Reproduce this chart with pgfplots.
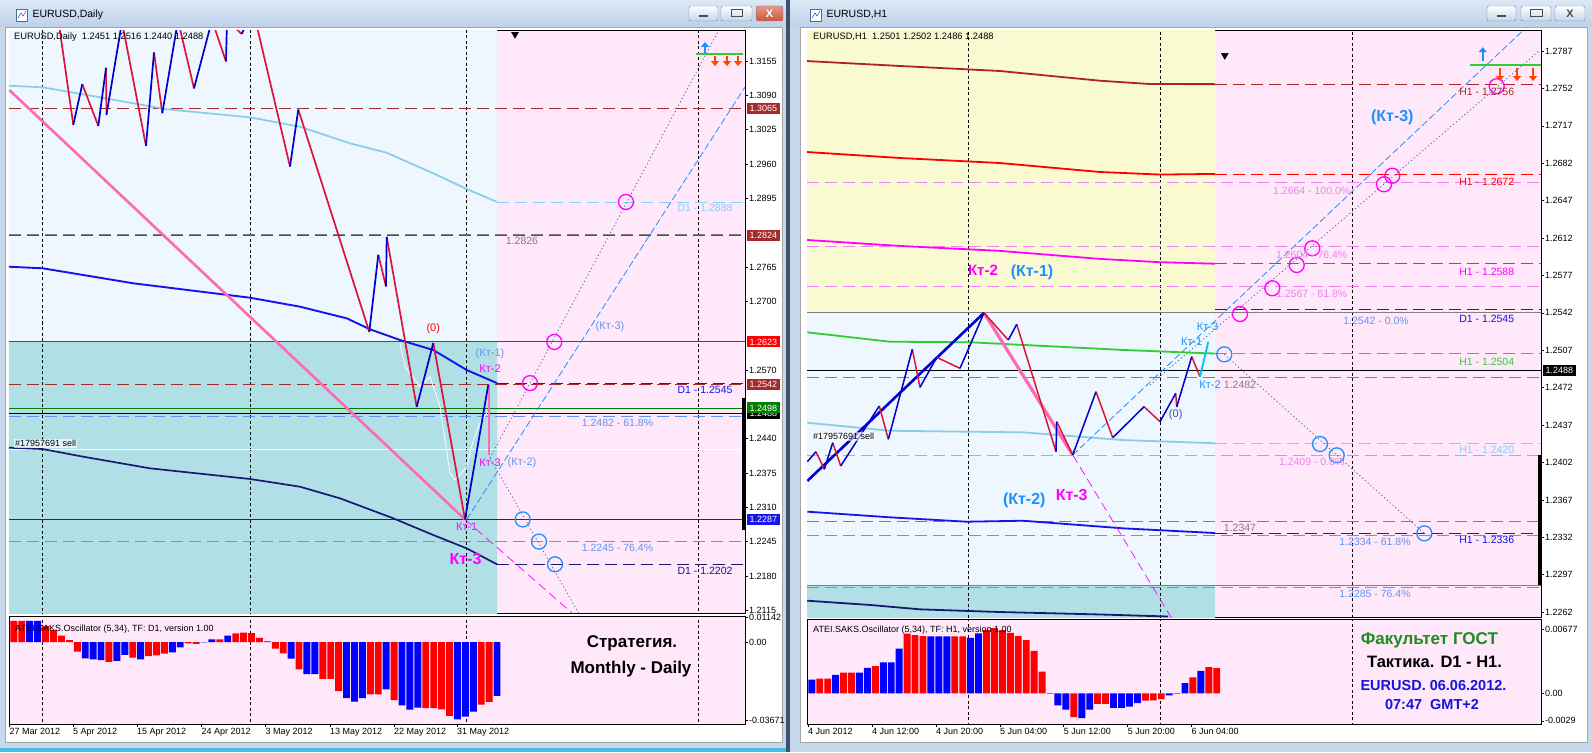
\documentclass[border=0pt]{standalone}
\usepackage{fontspec}
\setmainfont{Liberation Sans}
\usepackage{pgfplots}
\pgfplotsset{compat=1.18}
\usetikzlibrary{arrows.meta}

\definecolor{chrome}{RGB}{200,216,236}
\definecolor{titletop}{RGB}{220,232,246}
\definecolor{titlebot}{RGB}{190,209,233}
\definecolor{divider}{RGB}{60,82,108}
\definecolor{cyanline}{RGB}{70,190,225}
\definecolor{btnbord}{RGB}{110,130,160}
\definecolor{btnbot}{RGB}{196,212,234}
\definecolor{closered}{RGB}{205,85,60}
\definecolor{pinkbg}{RGB}{255,232,250}
\definecolor{alicebg}{RGB}{238,246,254}
\definecolor{tealbg}{RGB}{176,223,229}
\definecolor{yellowbg}{RGB}{250,250,210}
\definecolor{zzred}{RGB}{220,20,60}
\definecolor{zzblue}{RGB}{0,0,205}
\definecolor{skyma}{RGB}{135,206,235}
\definecolor{bluema}{RGB}{20,20,235}
\definecolor{navyma}{RGB}{25,25,112}
\definecolor{hotpink}{RGB}{255,105,180}
\definecolor{magent}{RGB}{255,0,255}
\definecolor{dodger}{RGB}{30,144,255}
\definecolor{deepsky}{RGB}{0,191,255}
\definecolor{cornflower}{RGB}{100,149,237}
\definecolor{violetc}{RGB}{238,130,238}
\definecolor{brownc}{RGB}{165,42,42}
\definecolor{firebrick}{RGB}{178,34,34}
\definecolor{limeg}{RGB}{50,205,50}
\definecolor{darkgreen}{RGB}{0,128,0}
\definecolor{lightsky}{RGB}{135,206,250}
\definecolor{steel}{RGB}{70,110,160}
\definecolor{orangered}{RGB}{255,69,0}
\definecolor{oscred}{RGB}{255,0,0}
\definecolor{oscblue}{RGB}{0,0,255}
\definecolor{gostgreen}{RGB}{30,140,30}
\definecolor{textblue}{RGB}{20,20,220}
\definecolor{zerocol}{RGB}{50,80,190}

\newcommand{\fs}[1]{\fontsize{#1}{#1}\selectfont}

\tikzset{
  lab/.style={font=\fs{10.5}, inner sep=0pt},
  lab2/.style={font=\fs{11}, inner sep=0pt},
  pb/.style={anchor=west, font=\fs{9}, text=white, inner xsep=2.5pt, inner ysep=1pt, minimum height=11pt, xshift=2pt},
}
\pgfplotsset{
  mt/.style={scale only axis, clip mode=individual,
    axis line style={black,line width=0.8pt},
    xtick=\empty, ytick pos=right, yticklabel pos=right,
    tick align=outside, major tick length=3pt,
    tick style={black,line width=0.6pt},
    yticklabel style={font=\fs{9}, anchor=west, inner sep=1pt},
    xticklabel style={font=\fs{9}, anchor=north west, inner sep=1pt, xshift=-1pt},
    axis background/.style={fill=pinkbg}},
  lvl/.style={line width=0.8pt, dash pattern=on 12pt off 6pt},
  sepl/.style={black, line width=0.7pt, dash pattern=on 3pt off 2.5pt},
  bg/.style={draw=none, fill=#1},
  circ/.style={only marks, mark=o, mark size=7.5pt, mark options={line width=1.3pt}},
}

\begin{document}
\begin{tikzpicture}
% ---------- window chrome ----------
\begin{scope}[x=1pt,y=-1pt]
\fill[chrome] (0,0) rectangle (1592,752);
\shade[top color=titletop, bottom color=titlebot] (0,0) rectangle (786,27);
\shade[top color=titletop, bottom color=titlebot] (790,0) rectangle (1592,27);
\fill[white] (5,27) rectangle (782,742);
\draw[gray!70] (5,27) rectangle (782,742);
\fill[white] (800,27) rectangle (1587,742);
\draw[gray!70] (800,27) rectangle (1587,742);
\fill[divider] (786,0) rectangle (790,752);
\fill[cyanline] (0,748) rectangle (786,752);
% icons and titles
\draw[steel, fill=white] (16,9) rectangle (27,21);
\draw[bluema] (18,18) -- (21,13) -- (23,16) -- (26,11);
\node[anchor=west, font=\fs{10.5}] at (29,15) {EURUSD,Daily};
\draw[steel, fill=white] (810,9) rectangle (821,21);
\draw[bluema] (812,18) -- (815,13) -- (817,16) -- (820,11);
\node[anchor=west, font=\fs{10.5}] at (823,15) {EURUSD,H1};
% buttons left
\draw[btnbord, rounded corners=2pt, top color=white, bottom color=btnbot] (689,6) rectangle (718,21);
\draw[line width=1.6pt, black!70] (699,16) -- (708,16);
\draw[btnbord, rounded corners=2pt, top color=white, bottom color=btnbot] (721,6) rectangle (752,21);
\draw[line width=1pt, black!70] (731,10) rectangle (742,17);
\draw[btnbord, rounded corners=2pt, top color=closered!60, bottom color=closered] (756,6) rectangle (783,21);
\node[font=\bfseries\fs{11}, text=white] at (769.5,13.5) {X};
% buttons right
\draw[btnbord, rounded corners=2pt, top color=white, bottom color=btnbot] (1487,6) rectangle (1516,21);
\draw[line width=1.6pt, black!70] (1497,16) -- (1506,16);
\draw[btnbord, rounded corners=2pt, top color=white, bottom color=btnbot] (1521,6) rectangle (1551,21);
\draw[line width=1pt, black!70] (1530,10) rectangle (1542,17);
\draw[btnbord, rounded corners=2pt, top color=white, bottom color=btnbot] (1555,6) rectangle (1585,21);
\node[font=\bfseries\fs{11}, text=black!70] at (1570,13.5) {X};
\end{scope}

% ================= LEFT MAIN (Daily) =================
\begin{axis}[mt, at={(9pt,-30.5pt)}, anchor=north west, width=736pt, height=582.5pt,
  xmin=9, xmax=745, ymin=1.21098, ymax=1.32126,
  ytick={1.3155,1.309,1.3025,1.296,1.2895,1.2765,1.27,1.257,1.244,1.2375,1.231,1.2245,1.218,1.2115},
  yticklabels={1.3155,1.3090,1.3025,1.2960,1.2895,1.2765,1.2700,1.2570,1.2440,1.2375,1.2310,1.2245,1.2180,1.2115}]
% backgrounds
\addplot[bg=alicebg] coordinates {(9,1.2623)(497,1.2623)(497,1.33)(9,1.33)(9,1.2623)};
\addplot[bg=tealbg] coordinates {(9,1.20)(497,1.20)(497,1.2623)(9,1.2623)(9,1.20)};
% period separators
\addplot[sepl] coordinates {(42.5,1.20)(42.5,1.33)};
\addplot[sepl] coordinates {(250.5,1.20)(250.5,1.33)};
\addplot[sepl] coordinates {(466.5,1.20)(466.5,1.33)};
\addplot[sepl] coordinates {(698,1.20)(698,1.33)};
% levels
\addplot[brownc,lvl] coordinates {(9,1.3065)(745,1.3065)};
\addplot[gray,lvl] coordinates {(9,1.2826)(745,1.2826)};
\addplot[brownc,lvl] coordinates {(9,1.2824)(745,1.2824)};
\addplot[lightsky,lvl] coordinates {(497,1.2888)(745,1.2888)};
\addplot[red,line width=0.9pt] coordinates {(9,1.2623)(745,1.2623)};
\addplot[bluema,lvl] coordinates {(497,1.2545)(745,1.2545)};
\addplot[brownc,lvl] coordinates {(9,1.2542)(745,1.2542)};
\addplot[darkgreen,line width=0.9pt] coordinates {(9,1.2498)(745,1.2498)};
\addplot[black,line width=0.8pt] coordinates {(9,1.2488)(745,1.2488)};
\addplot[cornflower,lvl] coordinates {(9,1.2482)(745,1.2482)};
\addplot[white,line width=0.9pt] coordinates {(9,1.2420)(745,1.2420)};
\addplot[bluema,line width=0.9pt] coordinates {(9,1.2287)(745,1.2287)};
\addplot[cornflower,lvl] coordinates {(9,1.2245)(745,1.2245)};
\addplot[navyma,lvl] coordinates {(497,1.2202)(745,1.2202)};
% moving averages
\addplot[skyma,line width=1.7pt] coordinates {(9,1.3108)(42.7,1.3105)(100,1.30861)(166.7,1.30634)(250,1.30482)(300,1.30304)(350,1.2999)(386.7,1.29812)(433.3,1.29422)(466.7,1.29125)(497,1.2888)};
\addplot[bluema,line width=1.9pt] coordinates {(9,1.27654)(42.7,1.27624)(133.3,1.2734)(250,1.27067)(300,1.26897)(346.7,1.26677)(370,1.26469)(400,1.26266)(433.3,1.26077)(466.7,1.25698)(497,1.2545)};
\addplot[navyma,line width=1.7pt] coordinates {(9,1.24227)(42.7,1.24202)(83.3,1.24057)(150,1.23837)(250,1.23635)(300,1.23489)(340,1.23269)(393.3,1.22891)(433.3,1.22574)(466.7,1.22322)(497,1.2202)};
% trend and projections
\addplot[hotpink,line width=2.6pt] coordinates {(9.3,1.30999)(465,1.2287)};
\addplot[magent,line width=0.7pt,dash pattern=on 9pt off 5pt] coordinates {(465,1.2287)(580,1.20966)};
\addplot[dodger,line width=0.8pt,dash pattern=on 7pt off 3pt] coordinates {(466.7,1.2287)(745,1.31056)};
\addplot[steel,line width=0.8pt,dash pattern=on 1.2pt off 2.5pt] coordinates {(490,1.24032)(718.6,1.32126)};
\addplot[steel,line width=0.8pt,dash pattern=on 1.2pt off 2.5pt] coordinates {(490,1.24032)(590,1.2072)};
% white auxiliary line
\addplot[white,line width=0.8pt] coordinates {(400,1.26204)(405,1.25761)(420,1.25382)(430,1.25571)(440,1.25004)(450,1.23748)(455,1.23616)(466.7,1.23868)(473.3,1.24373)(480,1.24695)(486.7,1.24884)};
% zigzag
\addplot[hotpink,line width=2pt] coordinates {(489.3,1.2542)(489.3,1.24089)};
\addplot[zzred,line width=1.7pt,unbounded coords=jump] coordinates {
(57,1.3251)(73.3,1.3034)(0,nan)
(82.3,1.3111)(98.3,1.3032)(0,nan)
(106,1.3142)(106.5,1.3053)(0,nan)
(122,1.3229)(146,1.2994)(0,nan)
(154,1.3171)(162.3,1.3056)(0,nan)
(178,1.3232)(194,1.3103)(0,nan)
(212,1.3232)(226,1.3154)(0,nan)
(227,1.3232)(241.7,1.3206)(0,nan)
(255.5,1.3232)(290,1.2955)(0,nan)
(298.3,1.3063)(369.3,1.2642)(0,nan)
(378.3,1.2788)(386,1.2728)(0,nan)
(386.7,1.2822)(416.7,1.2500)(0,nan)
(433.3,1.2621)(465,1.2287)};
\addplot[zzblue,line width=1.7pt,unbounded coords=jump] coordinates {
(73.3,1.3034)(82.3,1.3111)(0,nan)
(98.3,1.3032)(106,1.3142)(0,nan)
(106.5,1.3053)(122,1.3229)(0,nan)
(146,1.2994)(154,1.3171)(0,nan)
(162.3,1.3056)(178,1.3232)(0,nan)
(194,1.3103)(212,1.3232)(0,nan)
(226,1.3154)(227,1.3232)(0,nan)
(241.7,1.3206)(248,1.3232)(0,nan)
(290,1.2955)(298.3,1.3063)(0,nan)
(369.3,1.2642)(378.3,1.2788)(0,nan)
(386,1.2728)(386.7,1.2822)(0,nan)
(416.7,1.2500)(433.3,1.2621)(0,nan)
(465,1.2287)(488.3,1.2542)};
% circles
\addplot[circ, magent] coordinates {(626,1.2888)(554.3,1.2623)(530,1.2545)};
\addplot[circ, dodger] coordinates {(522.7,1.2287)(539,1.2245)(555,1.2202)};
% top-right signals
\addplot[limeg,line width=2.4pt] coordinates {(696,1.31683)(743,1.31683)};
\addplot[dodger,line width=2.2pt,-{Triangle[width=8pt,length=5pt]},quiver={u=\thisrow{u},v=\thisrow{v}}] table {
x y u v
705 1.31709 0 0.0020
};
\addplot[orangered,line width=2.2pt,-{Triangle[width=8pt,length=5pt]},quiver={u=\thisrow{u},v=\thisrow{v}}] table {
x y u v
715 1.31643 0 -0.0019
727 1.31643 0 -0.0019
738 1.31643 0 -0.0019
};
\addplot[only marks, mark=triangle*, mark size=4pt, mark options={rotate=180, fill=black, draw=black}] coordinates {(515,1.32055)};
\addplot[black,line width=3pt] coordinates {(743.5,1.25168)(743.5,1.2267)};
% labels
\node[font=\fs{9.3}, anchor=west, inner sep=1pt] at (axis cs:13,1.31998) {EURUSD,Daily\ \ 1.2451 1.2516 1.2440 1.2488};
\node[font=\fs{9}, anchor=west, fill=white, fill opacity=0.7, text opacity=1, inner sep=1pt] at (axis cs:14,1.2431) {\#17957691 sell};
\node[lab2, text=red] at (axis cs:433.3,1.26488) {(0)};
\node[lab2, text=cornflower] at (axis cs:490,1.26001) {(Кт-1)};
\node[lab2, text=magent] at (axis cs:490,1.25717) {Кт-2};
\node[lab2, text=magent] at (axis cs:490,1.23943) {Кт-3};
\node[lab2, text=cornflower] at (axis cs:522,1.23943) {(Кт-2)};
\node[lab2, text=magent] at (axis cs:466.7,1.22731) {Кт-1};
\node[font=\bfseries\fs{16}, text=magent, inner sep=0pt] at (axis cs:465.5,1.22114) {Кт-3};
\node[lab2, text=cornflower] at (axis cs:610,1.26518) {(Кт-3)};
\node[lab, text=lightsky] at (axis cs:705,1.28765) {D1 - 1.2888};
\node[lab, text=gray] at (axis cs:522,1.28146) {1.2826};
\node[lab, text=bluema] at (axis cs:705,1.25319) {D1 - 1.2545};
\node[lab, text=cornflower] at (axis cs:617.5,1.24689) {1.2482 - 61.8\%};
\node[lab, text=cornflower] at (axis cs:617.5,1.22334) {1.2245 - 76.4\%};
\node[lab, text=navyma] at (axis cs:705,1.21893) {D1 - 1.2202};
% price boxes
\node[pb, fill=brownc] at (axis cs:745,1.3065) {1.3065};
\node[pb, fill=brownc] at (axis cs:745,1.2824) {1.2824};
\node[pb, fill=red] at (axis cs:745,1.2623) {1.2623};
\node[pb, fill=brownc] at (axis cs:745,1.2542) {1.2542};
\node[pb, fill=black] at (axis cs:745,1.2488) {1.2488};
\node[pb, fill=darkgreen] at (axis cs:745,1.2498) {1.2498};
\node[pb, fill=bluema] at (axis cs:745,1.2287) {1.2287};
\end{axis}

% ================= LEFT OSCILLATOR =================
\begin{axis}[mt, at={(9pt,-616pt)}, anchor=north west, width=736pt, height=108pt,
  xmin=9, xmax=745, ymin=-38.59, ymax=12.24,
  ytick={11.42,0,-36.71}, yticklabels={0.01142,0.00,-0.03671},
  xtick={9.5,73,137,201.5,265.5,330,394,457}, xtick pos=bottom,
  xticklabels={27 Mar 2012,5 Apr 2012,15 Apr 2012,24 Apr 2012,3 May 2012,13 May 2012,22 May 2012,31 May 2012}]
\addplot[sepl] coordinates {(42.5,-40)(42.5,15)};
\addplot[sepl] coordinates {(250.5,-40)(250.5,15)};
\addplot[sepl] coordinates {(466.5,-40)(466.5,15)};
\addplot[sepl] coordinates {(698,-40)(698,15)};
\addplot[ybar, bar width=6.9, bar shift=0pt, fill=oscred, draw=none] coordinates {
(13.9,10.0)(21.8,10.0)(45.6,7.5)(53.5,5.6)(61.4,3.0)(69.3,0.9)(77.3,-4.5)(108.9,-9.4)(132.7,-7.4)(148.5,-6.6)(156.5,-6.3)(164.4,-5.5)(188.1,-0.6)(196.1,-0.9)(219.8,1.25)(235.7,4.1)(243.6,4.4)(251.5,4.2)(259.4,1.9)(275.3,-3.1)(283.2,-5.3)(299.0,-12.9)(322.8,-17.3)(330.7,-17.3)(338.6,-23.1)(370.3,-24.6)(378.2,-24.6)(394.1,-27.3)(425.7,-31.1)(433.7,-31.1)(441.6,-31.7)(449.5,-34.8)(481.2,-29.5)(489.1,-28.2)};
\addplot[ybar, bar width=6.9, bar shift=0pt, fill=oscblue, draw=none] coordinates {
(29.7,10.0)(37.7,10.0)(85.2,-7.7)(93.1,-8.2)(101.0,-8.5)(116.9,-8.9)(124.8,-6.1)(140.6,-8.2)(172.3,-4.9)(180.2,-2.5)(204.0,-0.2)(211.9,1.25)(227.7,3.0)(267.3,0.3)(291.1,-7.8)(306.9,-15.1)(314.9,-15.1)(346.5,-26.4)(354.5,-28.1)(362.4,-26.4)(386.1,-22.3)(402.0,-29.8)(409.9,-31.8)(417.8,-30.9)(457.4,-36.4)(465.3,-35.1)(473.3,-32.8)(497.0,-25.3)};
\node[font=\fs{9}, anchor=west, inner sep=0pt] at (axis cs:15,6.1) {ATEI.SAKS.Oscillator (5,34), TF: D1, version 1.00};
\node[font=\bfseries\fs{17}, inner sep=0pt] at (axis cs:632,-0.6) {Стратегия.};
\node[font=\bfseries\fs{17}, inner sep=0pt] at (axis cs:631,-12.7) {Monthly - Daily};
\end{axis}

% ================= RIGHT MAIN (H1) =================
\begin{axis}[mt, at={(807pt,-30.5pt)}, anchor=north west, width=734pt, height=586.5pt,
  xmin=807, xmax=1541, ymin=1.225743, ymax=1.28062,
  ytick={1.2787,1.2752,1.2717,1.2682,1.2647,1.2612,1.2577,1.2542,1.2507,1.2472,1.2437,1.2402,1.2367,1.2332,1.2297,1.2262},
  yticklabels={1.2787,1.2752,1.2717,1.2682,1.2647,1.2612,1.2577,1.2542,1.2507,1.2472,1.2437,1.2402,1.2367,1.2332,1.2297,1.2262}]
\addplot[bg=yellowbg] coordinates {(807,1.2542)(1215,1.2542)(1215,1.29)(807,1.29)(807,1.2542)};
\addplot[bg=alicebg] coordinates {(807,1.2287)(1215,1.2287)(1215,1.2542)(807,1.2542)(807,1.2287)};
\addplot[bg=tealbg] coordinates {(807,1.22)(1215,1.22)(1215,1.2287)(807,1.2287)(807,1.22)};
\addplot[sepl] coordinates {(968.5,1.22)(968.5,1.29)};
\addplot[sepl] coordinates {(1160.5,1.22)(1160.5,1.29)};
\addplot[sepl] coordinates {(1352.5,1.22)(1352.5,1.29)};
% full-width levels
\addplot[violetc,lvl] coordinates {(807,1.2664)(1541,1.2664)};
\addplot[violetc,lvl] coordinates {(807,1.2604)(1541,1.2604)};
\addplot[violetc,lvl] coordinates {(807,1.2567)(1541,1.2567)};
\addplot[gray,line width=0.8pt] coordinates {(807,1.2542)(1541,1.2542)};
\addplot[black,line width=0.8pt] coordinates {(807,1.2488)(1541,1.2488)};
\addplot[gray,lvl] coordinates {(807,1.2482)(1541,1.2482)};
\addplot[violetc,lvl] coordinates {(807,1.2409)(1541,1.2409)};
\addplot[gray,lvl] coordinates {(807,1.2347)(1541,1.2347)};
\addplot[cornflower,lvl] coordinates {(807,1.2334)(1541,1.2334)};
\addplot[gray,line width=0.8pt] coordinates {(807,1.2287)(1541,1.2287)};
\addplot[cornflower,lvl] coordinates {(807,1.2285)(1541,1.2285)};
% MA continuations
\addplot[firebrick,lvl] coordinates {(1215,1.2756)(1541,1.2756)};
\addplot[red,lvl] coordinates {(1215,1.2672)(1541,1.2672)};
\addplot[magent,lvl] coordinates {(1215,1.2588)(1541,1.2588)};
\addplot[bluema,lvl] coordinates {(1215,1.2545)(1541,1.2545)};
\addplot[limeg,lvl] coordinates {(1215,1.2504)(1541,1.2504)};
\addplot[skyma,lvl] coordinates {(1215,1.2420)(1541,1.2420)};
\addplot[bluema,lvl] coordinates {(1215,1.2336)(1541,1.2336)};
% moving averages
\addplot[firebrick,line width=1.8pt] coordinates {(807,1.27776)(900,1.2773)(1000,1.27683)(1100,1.27592)(1150,1.27561)(1215,1.2756)};
\addplot[red,line width=1.8pt] coordinates {(807,1.26925)(900,1.26869)(1000,1.26822)(1100,1.26738)(1160,1.26714)(1215,1.2672)};
\addplot[magent,line width=1.8pt] coordinates {(807,1.26102)(900,1.26046)(1000,1.26)(1100,1.25925)(1160,1.25894)(1215,1.2588)};
\addplot[limeg,line width=1.8pt] coordinates {(807.3,1.25238)(890,1.2515)(970,1.25145)(1123,1.25073)(1206.7,1.25042)(1215,1.2504)};
\addplot[skyma,line width=1.8pt] coordinates {(807.3,1.24392)(890,1.24317)(1023,1.24302)(1123,1.2423)(1215,1.2420)};
\addplot[bluema,line width=1.8pt] coordinates {(807.3,1.2356)(890,1.23507)(966.7,1.23466)(1023,1.23475)(1123,1.23404)(1215,1.2336)};
\addplot[navyma,line width=1.8pt] coordinates {(807,1.22727)(870,1.22687)(920,1.22646)(1000,1.22621)(1100,1.22598)(1168,1.22579)};
% trend lines and projections
\addplot[zzblue,line width=2.6pt] coordinates {(807.3,1.23847)(984,1.2542)};
\addplot[hotpink,line width=3.2pt] coordinates {(984,1.2542)(1072.7,1.2409)};
\addplot[magent,line width=0.7pt,dash pattern=on 9pt off 5pt] coordinates {(1072.7,1.2409)(1180,1.22434)};
\addplot[dodger,line width=0.8pt,dash pattern=on 7pt off 3pt] coordinates {(1072.7,1.2409)(1523,1.28062)};
\addplot[steel,line width=0.8pt,dash pattern=on 1.2pt off 2.5pt] coordinates {(1150,1.24745)(1540,1.27879)};
\addplot[steel,line width=0.8pt,dash pattern=on 1.2pt off 2.5pt] coordinates {(1224.3,1.25032)(1424.3,1.23357)};
% zigzag
\addplot[zzred,line width=1.5pt,unbounded coords=jump] coordinates {
(816,1.24121)(824.3,1.23956)(0,nan)
(832.7,1.24205)(840.7,1.23987)(0,nan)
(879.3,1.24549)(888.3,1.24237)(0,nan)
(912.3,1.25079)(920,1.24723)(0,nan)
(936.7,1.25004)(960,1.24901)(0,nan)
(984,1.2542)(1008.3,1.25166)(0,nan)
(1016.7,1.25313)(1056,1.24121)(0,nan)
(1056.7,1.24402)(1072.7,1.2409)(0,nan)
(1096,1.24682)(1112.7,1.24252)(0,nan)
(1144,1.24542)(1160,1.24402)(0,nan)
(1175.7,1.24667)(1176.7,1.2454)(0,nan)
(1191.7,1.2501)(1200,1.24823)};
\addplot[zzblue,line width=1.5pt,unbounded coords=jump] coordinates {
(807.3,1.24027)(816,1.24121)(0,nan)
(824.3,1.23956)(832.7,1.24205)(0,nan)
(840.7,1.23987)(879.3,1.24549)(0,nan)
(888.3,1.24237)(912.3,1.25079)(0,nan)
(920,1.24723)(936.7,1.25004)(0,nan)
(960,1.24901)(984,1.2542)(0,nan)
(1008.3,1.25166)(1016.7,1.25313)(0,nan)
(1056,1.24121)(1056.7,1.24402)(0,nan)
(1072.7,1.2409)(1096,1.24682)(0,nan)
(1112.7,1.24252)(1144,1.24542)(0,nan)
(1160,1.24402)(1175.7,1.24667)(0,nan)
(1176.7,1.2454)(1191.7,1.2501)};
\addplot[deepsky,line width=1.8pt] coordinates {(1200,1.24823)(1208.3,1.2515)};
% circles
\addplot[circ, magent] coordinates {(1240,1.25409)(1272.3,1.2565)(1296.7,1.25868)(1312.3,1.26024)(1384,1.26623)(1392.3,1.26703)(1496.7,1.27541)};
\addplot[circ, dodger] coordinates {(1224.3,1.25032)(1320,1.24193)(1336.7,1.24087)(1424.3,1.23357)};
% top-right signals
\addplot[limeg,line width=2.4pt] coordinates {(1470,1.27737)(1541,1.27737)};
\addplot[dodger,line width=2.2pt,-{Triangle[width=8pt,length=5pt]},quiver={u=\thisrow{u},v=\thisrow{v}}] table {
x y u v
1482.7 1.27776 0 0.0013
};
\addplot[orangered,line width=2.2pt,-{Triangle[width=8pt,length=5pt]},quiver={u=\thisrow{u},v=\thisrow{v}}] table {
x y u v
1500 1.27711 0 -0.00122
1517 1.27711 0 -0.00122
1533 1.27711 0 -0.00122
};
\addplot[only marks, mark=triangle*, mark size=4pt, mark options={rotate=180, fill=black, draw=black}] coordinates {(1224.8,1.27829)};
\addplot[black,line width=3pt] coordinates {(1539.5,1.24087)(1539.5,1.22871)};
% labels
\node[font=\fs{9.3}, anchor=west, inner sep=1pt] at (axis cs:812,1.27999) {EURUSD,H1\ \ 1.2501 1.2502 1.2486 1.2488};
\node[font=\fs{9}, anchor=west, fill=white, fill opacity=0.6, text opacity=1, inner sep=1pt] at (axis cs:812,1.24261) {\#17957691 sell};
\node[font=\bfseries\fs{15}, text=magent, inner sep=0pt] at (axis cs:983,1.25821) {Кт-2};
\node[font=\bfseries\fs{16}, text=dodger, inner sep=0pt] at (axis cs:1032,1.25802) {(Кт-1)};
\node[font=\bfseries\fs{16}, text=dodger, inner sep=0pt] at (axis cs:1024.3,1.23669) {(Кт-2)};
\node[font=\bfseries\fs{16}, text=magent, inner sep=0pt] at (axis cs:1071.7,1.23716) {Кт-3};
\node[lab2, text=zerocol] at (axis cs:1175.7,1.24464) {(0)};
\node[lab2, text=dodger] at (axis cs:1207.5,1.2529) {Кт-3};
\node[lab2, text=dodger] at (axis cs:1191.7,1.2515) {Кт-1};
\node[lab2, text=dodger] at (axis cs:1210,1.24745) {Кт-2};
\node[font=\bfseries\fs{16}, text=dodger, inner sep=0pt] at (axis cs:1392.3,1.2725) {(Кт-3)};
\node[lab, text=violetc] at (axis cs:1311.7,1.26563) {1.2664 - 100.0\%};
\node[lab, text=violetc] at (axis cs:1311.7,1.25961) {1.2604 - 76.4\%};
\node[lab, text=violetc] at (axis cs:1311.7,1.25596) {1.2567 - 61.8\%};
\node[lab, text=cornflower] at (axis cs:1376,1.25347) {1.2542 - 0.0\%};
\node[lab, text=gray] at (axis cs:1240,1.24745) {1.2482};
\node[lab, text=violetc] at (axis cs:1311.7,1.24027) {1.2409 - 0.0\%};
\node[lab, text=gray] at (axis cs:1240,1.2341) {1.2347};
\node[lab, text=cornflower] at (axis cs:1375,1.23273) {1.2334 - 61.8\%};
\node[lab, text=cornflower] at (axis cs:1375,1.22787) {1.2285 - 76.4\%};
\node[lab, text=brownc] at (axis cs:1486.7,1.27484) {H1 - 1.2756};
\node[lab, text=red] at (axis cs:1486.7,1.26646) {H1 - 1.2672};
\node[lab, text=magent] at (axis cs:1486.7,1.25808) {H1 - 1.2588};
\node[lab, text=bluema] at (axis cs:1486.7,1.25367) {D1 - 1.2545};
\node[lab, text=limeg] at (axis cs:1486.7,1.24966) {H1 - 1.2504};
\node[lab, text=lightsky] at (axis cs:1486.7,1.24139) {H1 - 1.2420};
\node[lab, text=bluema] at (axis cs:1486.7,1.23295) {H1 - 1.2336};
\node[pb, fill=black] at (axis cs:1541,1.2488) {1.2488};
\end{axis}

% ================= RIGHT OSCILLATOR =================
\begin{axis}[mt, at={(807pt,-619pt)}, anchor=north west, width=734pt, height=105pt,
  xmin=807, xmax=1541, ymin=-3.23, ymax=7.82,
  ytick={6.77,0,-2.9}, yticklabels={0.00677,0.00,-0.0029},
  xtick={808,872,936,1000,1063.6,1127.6,1191.5}, xtick pos=bottom,
  xticklabels={4 Jun 2012,4 Jun 12:00,4 Jun 20:00,5 Jun 04:00,5 Jun 12:00,5 Jun 20:00,6 Jun 04:00}]
\addplot[sepl] coordinates {(968.5,-4)(968.5,9)};
\addplot[sepl] coordinates {(1160.5,-4)(1160.5,9)};
\addplot[sepl] coordinates {(1352.5,-4)(1352.5,9)};
\addplot[ybar, bar width=6.9, bar shift=0pt, fill=oscred, draw=none] coordinates {
(819.7,1.55)(827.7,1.55)(843.6,2.18)(851.5,2.18)(875.3,2.85)(907.1,6.27)(915.0,6.13)(923.0,6.03)(954.7,6.0)(962.7,6.0)(986.5,6.64)(994.4,6.87)(1002.4,6.64)(1010.3,6.37)(1018.2,6.03)(1026.2,5.6)(1034.1,4.46)(1042.1,2.28)(1050.0,-0.05)(1073.8,-2.51)(1097.6,-1.11)(1105.6,-1.11)(1145.3,-0.77)(1153.2,-0.74)(1161.2,-0.6)(1177.0,-0.05)(1192.9,1.68)(1208.8,2.75)(1216.7,2.65)};
\addplot[ybar, bar width=6.9, bar shift=0pt, fill=oscblue, draw=none] coordinates {
(811.8,1.44)(835.6,1.94)(859.4,2.18)(867.4,2.68)(883.3,3.25)(891.2,3.25)(899.1,4.69)(930.9,6.0)(938.8,6.0)(946.8,6.0)(970.6,5.83)(978.5,6.3)(1057.9,-1.27)(1065.9,-1.71)(1081.8,-2.61)(1089.7,-1.71)(1113.5,-1.54)(1121.5,-1.54)(1129.4,-1.41)(1137.3,-1.04)(1169.1,-0.23)(1185.0,1.07)(1200.9,2.35)};
\node[font=\fs{9}, anchor=west, inner sep=0pt] at (axis cs:813,6.66) {ATEI.SAKS.Oscillator (5,34), TF: H1, version 1.00};
\node[font=\bfseries\fs{17}, text=gostgreen, inner sep=0pt] at (axis cs:1429.4,5.54) {Факультет ГОСТ};
\node[font=\bfseries\fs{16.5}, inner sep=0pt] at (axis cs:1434.5,3.33) {Тактика. D1 - H1.};
\node[font=\bfseries\fs{14.5}, text=textblue, inner sep=0pt] at (axis cs:1433.5,0.87) {EURUSD. 06.06.2012.};
\node[font=\bfseries\fs{14.5}, text=textblue, inner sep=0pt] at (axis cs:1432,-1.16) {07:47\ \ GMT+2};
\end{axis}

\pgfresetboundingbox
\useasboundingbox (0pt,0pt) rectangle (1592pt,-752pt);
\end{tikzpicture}
\end{document}
